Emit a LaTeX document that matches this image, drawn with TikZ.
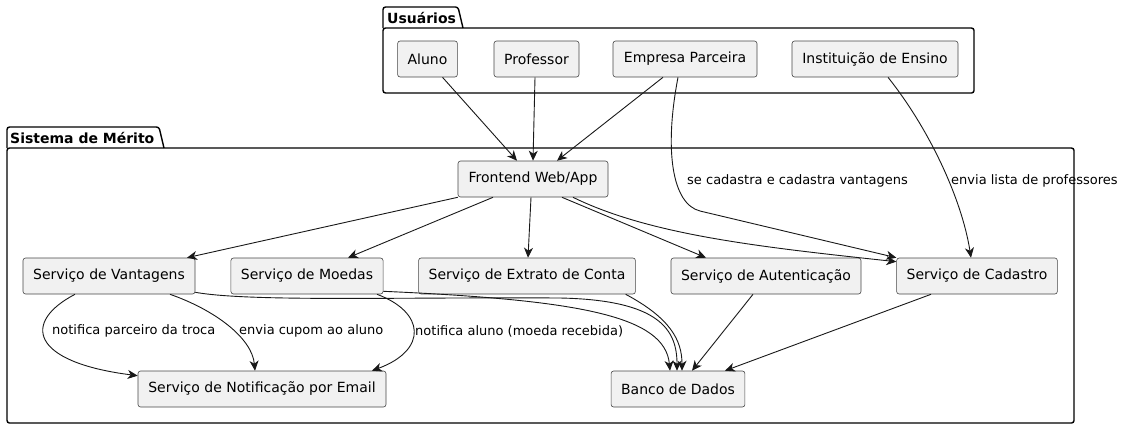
\documentclass[tikz,border=0pt]{standalone}
\usepackage{fontspec}
\setmainfont{DejaVu Sans}
\usetikzlibrary{arrows.meta}
\definecolor{nodefill}{HTML}{F1F1F1}
\definecolor{linec}{HTML}{181818}
\begin{document}
\begin{tikzpicture}[x=1pt,y=-1pt,
  comp/.style={draw=linec!80, line width=0.6pt, fill=nodefill, rounded corners=2.5pt,
    minimum height=36pt, inner xsep=10pt, inner ysep=0pt,
    font=\fontsize{14}{16}\selectfont},
  pkg/.style={draw=black, line width=1.4pt, rounded corners=2.5pt},
  pkgtitle/.style={anchor=west, inner sep=0pt, font=\fontsize{14}{16}\selectfont\bfseries},
  conn/.style={draw=linec, line width=0.9pt, -{Stealth[length=10pt,width=9pt,inset=3pt]}},
  elabel/.style={anchor=west, inner sep=0pt, font=\fontsize{13}{15}\selectfont}
]
\useasboundingbox (0,0) rectangle (1123,429);

% packages
\draw[pkg] (383,28) -- (383,7) -- (458,7) -- (463,28);
\draw[pkg] (383,28) rectangle (974,93);
\node[pkgtitle] (tusr) at (387,18) {Usuários};
\draw[pkg] (7,148) -- (7,127) -- (159,127) -- (164,148);
\draw[pkg] (7,148) rectangle (1074,423);
\node[pkgtitle] (tsis) at (10,138) {Sistema de Mérito};

% nodes
\node[comp, minimum width=59pt] (alu) at (427.5,59) {Aluno};
\node[comp, minimum width=85pt] (pro) at (536.5,59) {Professor};
\node[comp, minimum width=144pt] (emp) at (685,59) {Empresa Parceira};
\node[comp, minimum width=166pt] (ins) at (875,59) {Instituição de Ensino};

\node[comp, minimum width=150pt] (fe) at (533,179) {Frontend Web/App};

\node[comp, minimum width=172pt] (van) at (109,276) {Serviço de Vantagens};
\node[comp, minimum width=152pt] (moe) at (307,276) {Serviço de Moedas};
\node[comp, minimum width=216pt] (ext) at (527,276) {Serviço de Extrato de Conta};
\node[comp, minimum width=190pt] (aut) at (766,276) {Serviço de Autenticação};
\node[comp, minimum width=160pt] (cad) at (977,276) {Serviço de Cadastro};

\node[comp, minimum width=248pt] (not) at (262,389) {Serviço de Notificação por Email};
\node[comp, minimum width=132pt] (ban) at (678,389) {Banco de Dados};

% connectors
\draw[conn] ([xshift=15pt]alu.south) -- ([xshift=-16pt]fe.north);
\draw[conn] ([xshift=-1.5pt]pro.south) -- (fe.north);
\draw[conn] ([xshift=-22pt]emp.south) -- ([xshift=24pt]fe.north);
\draw[conn] ([xshift=-7pt]emp.south) .. controls (664,150) and (672,204) .. (700,211) -- (cad.north west);
\draw[conn] ([xshift=13pt]ins.south) .. controls (930,130) and (962,200) .. ([xshift=-6pt]cad.north);

\draw[conn] (fe.south west) -- ([xshift=78pt]van.north);
\draw[conn] ([xshift=-40pt]fe.south) -- ([xshift=41pt]moe.north);
\draw[conn] ([xshift=-2pt]fe.south) -- ([xshift=1pt]ext.north);
\draw[conn] ([xshift=29pt]fe.south) -- ([xshift=-60pt]aut.north);
\draw[conn] ([xshift=40pt]fe.south) .. controls (650,235) and (760,247) .. ([yshift=-4pt]cad.north west);

\draw[conn] ([xshift=-34pt]van.south) .. controls (22,322) and (30,362) .. ([yshift=-5pt]not.north west);
\draw[conn] ([xshift=61pt]van.south) .. controls (215,310) and (252,338) .. ([xshift=-7pt]not.north);
\draw[conn] ([xshift=70pt]moe.south) .. controls (425,312) and (428,350) .. ([xshift=110pt]not.north);

\draw[conn] ([yshift=2pt]van.south east) .. controls (250,302) and (400,297) .. (560,298) .. controls (660,300) and (677,330) .. ([xshift=-1pt]ban.north);
\draw[conn] ([yshift=3pt]moe.south east) .. controls (580,300) and (665,316) .. ([xshift=-8pt]ban.north);
\draw[conn] ([xshift=-10pt]ext.south east) .. controls (670,318) and (682,340) .. ([xshift=4pt]ban.north);
\draw[conn] ([xshift=-13pt]aut.south) -- ([xshift=14pt]ban.north);
\draw[conn] ([xshift=-46pt]cad.south) -- ([xshift=47pt]ban.north);

% labels
\node[elabel] (l1) at (52,331) {notifica parceiro da troca};
\node[elabel] (l2) at (239,331) {envia cupom ao aluno};
\node[elabel] (l3) at (415,331) {notifica aluno (moeda recebida)};
\node[elabel] (l4) at (687,181) {se cadastra e cadastra vantagens};
\node[elabel] (l5) at (951,181) {envia lista de professores};
\end{tikzpicture}
\end{document}
